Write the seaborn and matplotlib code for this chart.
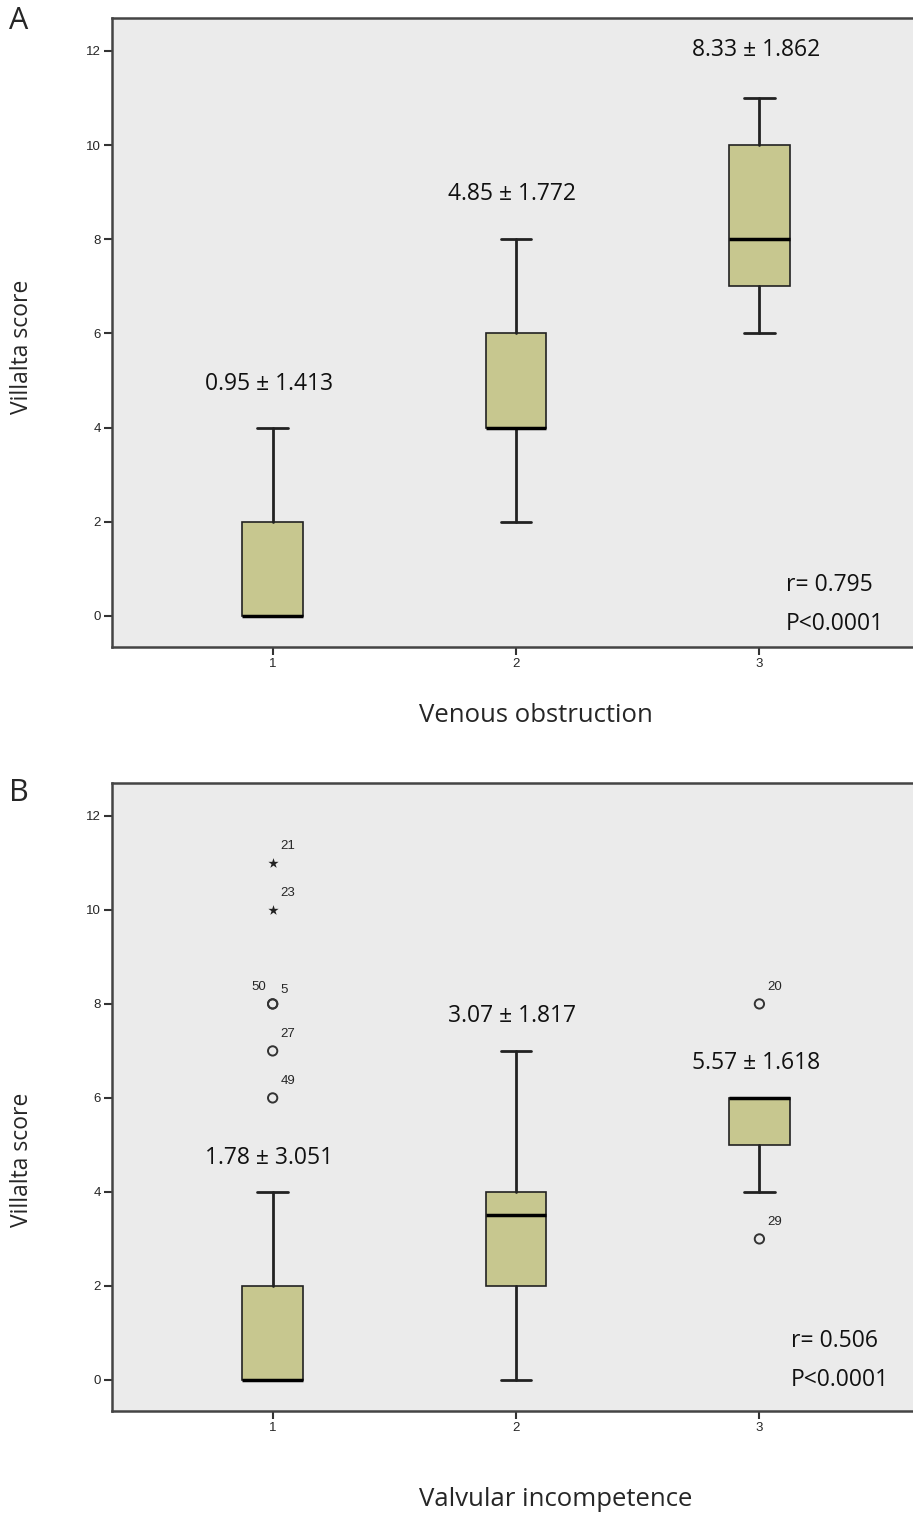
import numpy as np
import matplotlib
matplotlib.use('Agg')
import matplotlib.pyplot as plt
import seaborn as sns
import pandas as pd

sns.set_theme(style='white')
plt.rcParams['font.family'] = ['Open Sans', 'DejaVu Sans']

#### DATA ####
groups = [1, 2, 3]

# panel A - venous obstruction
a_q1 = [0, 4, 7]
a_med = [0, 4, 8]
a_q3 = [2, 6, 10]
a_lo = [0, 2, 6]
a_hi = [4, 8, 11]
a_labels = ['0.95 \u00b1 1.413', '4.85 \u00b1 1.772', '8.33 \u00b1 1.862']
a_label_y = [4.93, 8.96, 12.02]
a_r = 'r= 0.795'

# panel B - valvular incompetence
b_q1 = [0, 2, 5]
b_med = [0, 3.5, 6]
b_q3 = [2, 4, 6]
b_lo = [0, 0, 4]
b_hi = [4, 7, 6]
b_labels = ['1.78 \u00b1 3.051', '3.07 \u00b1 1.817', '5.57 \u00b1 1.618']
b_label_y = [4.72, 7.75, 6.75]
b_r = 'r= 0.506'

# outliers (group, value, case id, kind)
out_group = [1, 1, 1, 1, 1, 1, 3, 3]
out_value = [11, 10, 8, 8, 7, 6, 8, 3]
out_case = ['21', '23', '50', '5', '27', '49', '20', '29']
out_kind = ['extreme', 'extreme', 'outlier', 'outlier', 'outlier', 'outlier', 'outlier', 'outlier']

box_color = '#C7C78F'
bg_color = '#EBEBEB'
edge = '#222222'
txt_size = 16.5


def make_stats(q1, med, q3, lo, hi):
    return [dict(q1=a, med=m, q3=b, whislo=l, whishi=h, fliers=[])
            for a, m, b, l, h in zip(q1, med, q3, lo, hi)]


def draw_panel(ax, stats, labels, label_y, r_text, r_pos):
    ax.set_facecolor(bg_color)
    ax.bxp(stats, positions=groups, widths=0.25, patch_artist=True,
           showfliers=False, capwidths=0.125,
           boxprops=dict(facecolor=box_color, edgecolor=edge, linewidth=1.2),
           medianprops=dict(color='black', linewidth=2.5),
           whiskerprops=dict(color=edge, linewidth=2),
           capprops=dict(color=edge, linewidth=2))
    for g, txt, y in zip(groups, labels, label_y):
        ax.text(g - 0.015, y, txt, ha='center', va='center', fontsize=txt_size, color='#111111')
    ax.text(r_pos[0], r_pos[1], r_text, ha='left', va='center', fontsize=txt_size, color='#111111')
    ax.text(r_pos[0], r_pos[1] - 0.83, 'P<0.0001', ha='left', va='center', fontsize=txt_size, color='#111111')
    ax.set_xlim(0.34, 3.66)
    ax.set_ylim(-0.66, 12.70)
    ax.set_xticks(groups)
    ax.set_xticklabels([str(g) for g in groups])
    ax.set_yticks(range(0, 13, 2))
    ax.tick_params(axis='both', direction='out', length=6, width=1.5, color='#333333',
                   labelsize=9.5, bottom=True, left=True, pad=2)
    for s in ['left', 'bottom', 'top']:
        ax.spines[s].set_color('#444444')
        ax.spines[s].set_linewidth(1.8)
    ax.spines['right'].set_visible(False)
    ax.set_xlabel('')
    ax.set_ylabel('')


fig = plt.figure(figsize=(9.13, 15.16), dpi=100)
ax_a = fig.add_axes([0.1227, 0.5732, 1.0077 - 0.1227, 0.9881 - 0.5732])
ax_b = fig.add_axes([0.1227, 0.0693, 1.0077 - 0.1227, 0.4835 - 0.0693])

draw_panel(ax_a, make_stats(a_q1, a_med, a_q3, a_lo, a_hi), a_labels, a_label_y, a_r, (3.11, 0.66))
draw_panel(ax_b, make_stats(b_q1, b_med, b_q3, b_lo, b_hi), b_labels, b_label_y, b_r, (3.13, 0.83))

# outliers in panel B
df_out = pd.DataFrame({'group': out_group, 'value': out_value, 'case': out_case, 'kind': out_kind})
sns.scatterplot(data=df_out[df_out['kind'] == 'outlier'], x='group', y='value', ax=ax_b,
                marker='o', s=45, facecolor='none', edgecolor='#333333', linewidth=1.4, legend=False)
sns.scatterplot(data=df_out[df_out['kind'] == 'extreme'], x='group', y='value', ax=ax_b,
                marker='*', s=60, color='#222222', linewidth=0, legend=False)
ax_b.set_xlabel('')
ax_b.set_ylabel('')
for i, row in df_out.iterrows():
    if row['case'] == '50':
        ax_b.text(row['group'] - 0.055, row['value'] + 0.37, row['case'], fontsize=9.5,
                  ha='center', va='center', family=['Liberation Sans'])
    else:
        ax_b.text(row['group'] + 0.032, row['value'] + (0.3 if row['case'] == '5' else 0.37),
                  row['case'], fontsize=9.5, ha='left', va='center', family=['Liberation Sans'])

for a in [ax_a, ax_b]:
    for lab in a.get_xticklabels() + a.get_yticklabels():
        lab.set_family(['Liberation Sans'])

# panel letters and axis titles
fig.text(0.010, 0.986, 'A', fontsize=22, ha='left', va='center')
fig.text(0.010, 0.477, 'B', fontsize=22, ha='left', va='center')
fig.text(0.024, 1 - 347 / 1516, 'Villalta score', rotation=90, fontsize=16.5, ha='center', va='center')
fig.text(0.024, 1 - 1160 / 1516, 'Villalta score', rotation=90, fontsize=16.5, ha='center', va='center')
fig.text(536 / 913, 1 - 716 / 1516, 'Venous obstruction', fontsize=18.5, ha='center', va='center')
fig.text(556 / 913, 1 - 1500 / 1516, 'Valvular incompetence', fontsize=18.5, ha='center', va='center')

fig.savefig('out.png', dpi=100, facecolor='white')
